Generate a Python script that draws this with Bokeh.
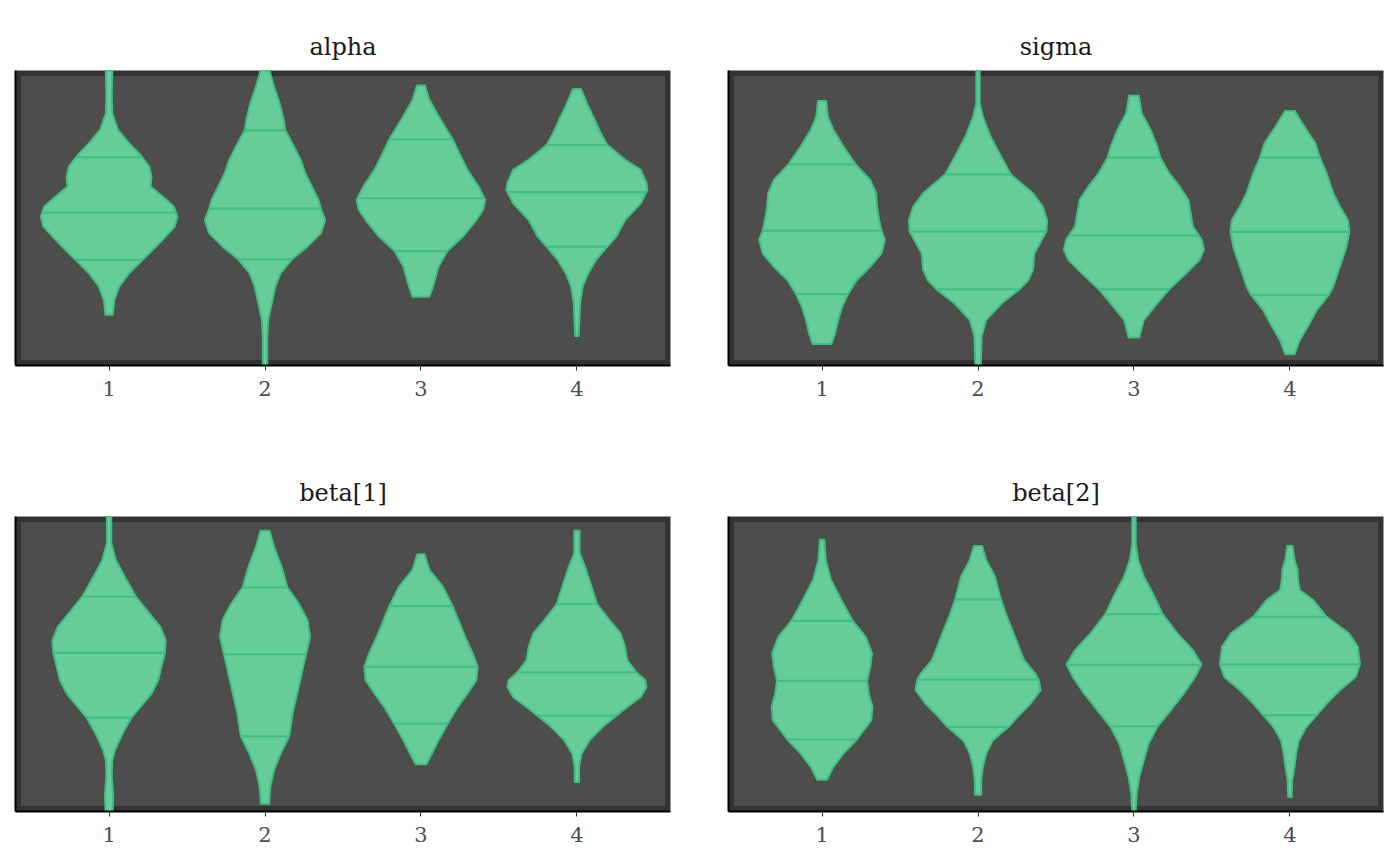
import numpy as np
from bokeh.plotting import figure
from bokeh.layouts import column, row
from bokeh.models import Range1d, FixedTicker, BoxAnnotation
from bokeh.embed import file_html
from bokeh.resources import INLINE

# Chains on the x axis and the four parameters (one panel each)
chains = [1, 2, 3, 4]
tick_labels = ["1", "2", "3", "4"]
params = ["alpha", "sigma", "beta[1]", "beta[2]"]

# Posterior draws are shown on a scaled axis (0 = panel minimum, 100 = panel maximum).
# For every chain: density levels (top to bottom) and the violin half-width at each level,
# plus the 25%, 50% and 75% quantiles.
alpha_levels = [
    [100.0, 92.0, 85.5, 79.9, 75.3, 71.9, 67.4, 63.9, 60.7, 57.3, 53.9, 50.5, 47.1, 42.6, 38.0, 35.8, 31.3, 26.8, 22.3, 17.2],
    [100.0, 94.6, 88.9, 83.3, 79.9, 74.2, 69.7, 65.2, 60.7, 56.1, 53.2, 49.3, 44.8, 40.3, 36.0, 31.3, 26.8, 21.1, 15.4, 9.8, 0.0],
    [94.9, 90.0, 83.3, 76.7, 71.9, 66.3, 60.7, 56.1, 52.7, 49.3, 43.7, 38.8, 33.5, 27.8, 23.3],
    [93.7, 87.8, 83.3, 78.8, 74.7, 69.7, 66.3, 61.8, 59.5, 55.0, 49.3, 43.7, 40.3, 35.8, 31.3, 26.8, 21.1, 10.0],
]
alpha_halfwidth = [
    [0.021, 0.017, 0.020, 0.057, 0.129, 0.192, 0.258, 0.272, 0.266, 0.343, 0.415, 0.438, 0.421, 0.343, 0.258, 0.215, 0.129, 0.066, 0.034, 0.023],
    [0.029, 0.057, 0.094, 0.120, 0.129, 0.186, 0.229, 0.258, 0.300, 0.343, 0.358, 0.386, 0.358, 0.272, 0.172, 0.100, 0.066, 0.043, 0.020, 0.014, 0.014],
    [0.026, 0.054, 0.126, 0.203, 0.246, 0.298, 0.369, 0.412, 0.398, 0.355, 0.269, 0.169, 0.112, 0.083, 0.054],
    [0.026, 0.072, 0.114, 0.152, 0.195, 0.309, 0.409, 0.446, 0.452, 0.409, 0.309, 0.252, 0.195, 0.123, 0.072, 0.037, 0.020, 0.011],
]
alpha_quantiles = [[35.8, 51.8, 70.6], [36.0, 53.2, 79.7], [38.8, 56.7, 76.7], [40.3, 58.8, 74.7]]

sigma_levels = [
    [89.7, 84.4, 79.9, 74.2, 68.2, 62.9, 58.3, 53.9, 49.3, 45.7, 42.6, 38.0, 33.5, 29.0, 24.2, 19.9, 15.4, 10.9, 7.3],
    [100.0, 88.9, 84.4, 77.6, 71.9, 64.8, 58.4, 53.9, 49.3, 45.4, 42.6, 38.0, 32.4, 29.0, 25.8, 21.1, 15.4, 9.8, 0.0],
    [91.4, 85.5, 79.9, 74.2, 70.5, 65.2, 60.7, 56.1, 51.6, 47.1, 42.6, 39.2, 35.8, 31.3, 25.8, 21.1, 15.4, 9.5],
    [86.3, 81.0, 75.3, 70.5, 65.2, 58.4, 53.9, 49.3, 45.3, 40.3, 35.8, 31.3, 26.8, 23.9, 18.8, 13.2, 8.6, 3.8],
]
sigma_halfwidth = [
    [0.026, 0.037, 0.072, 0.137, 0.215, 0.309, 0.346, 0.352, 0.366, 0.381, 0.403, 0.381, 0.309, 0.223, 0.166, 0.129, 0.103, 0.083, 0.060],
    [0.011, 0.011, 0.031, 0.080, 0.137, 0.209, 0.352, 0.415, 0.443, 0.438, 0.409, 0.361, 0.352, 0.323, 0.266, 0.152, 0.052, 0.023, 0.017],
    [0.031, 0.049, 0.106, 0.149, 0.169, 0.226, 0.292, 0.349, 0.363, 0.378, 0.435, 0.449, 0.421, 0.335, 0.226, 0.149, 0.063, 0.034],
    [0.031, 0.092, 0.163, 0.192, 0.235, 0.278, 0.320, 0.372, 0.381, 0.363, 0.335, 0.306, 0.278, 0.249, 0.172, 0.114, 0.063, 0.029],
]
sigma_quantiles = [[24.2, 45.7, 68.2], [25.8, 45.4, 64.8], [25.8, 44.1, 70.5], [23.9, 45.3, 70.5]]

beta1_levels = [
    [100.0, 90.9, 85.3, 79.6, 72.8, 67.2, 62.6, 58.1, 53.8, 49.0, 44.5, 40.0, 35.4, 31.8, 26.4, 20.7, 17.3, 11.7, 6.0, 0.0],
    [95.2, 89.8, 83.0, 76.0, 70.6, 64.9, 59.2, 53.3, 46.8, 40.0, 33.2, 25.5, 19.6, 13.9, 8.3, 2.6],
    [87.2, 81.9, 76.2, 69.6, 64.9, 59.2, 53.6, 49.0, 44.5, 40.0, 35.4, 29.8, 24.1, 19.6, 16.0],
    [95.2, 87.5, 83.0, 76.2, 70.3, 64.9, 60.4, 55.8, 51.3, 47.2, 44.5, 42.2, 38.8, 35.4, 32.5, 28.7, 24.1, 19.6, 15.1, 10.0],
]
beta1_halfwidth = [
    [0.014, 0.014, 0.043, 0.100, 0.172, 0.258, 0.329, 0.363, 0.358, 0.335, 0.315, 0.272, 0.200, 0.143, 0.086, 0.037, 0.020, 0.017, 0.026, 0.023],
    [0.029, 0.057, 0.106, 0.143, 0.215, 0.272, 0.289, 0.263, 0.235, 0.206, 0.177, 0.155, 0.100, 0.057, 0.034, 0.026],
    [0.023, 0.054, 0.140, 0.203, 0.240, 0.283, 0.332, 0.363, 0.355, 0.298, 0.235, 0.172, 0.112, 0.069, 0.034],
    [0.017, 0.017, 0.052, 0.094, 0.129, 0.209, 0.280, 0.309, 0.323, 0.381, 0.438, 0.446, 0.409, 0.323, 0.252, 0.166, 0.080, 0.029, 0.014, 0.014],
]
beta1_quantiles = [[31.8, 53.8, 72.8], [25.5, 53.3, 76.0], [29.8, 49.0, 69.6], [32.5, 47.2, 70.3]]

beta2_levels = [
    [92.1, 85.3, 78.5, 71.7, 64.6, 59.2, 53.6, 49.0, 44.3, 40.0, 35.4, 30.9, 27.5, 24.4, 19.6, 15.1, 10.8],
    [90.0, 85.3, 79.6, 71.9, 66.0, 59.2, 51.3, 46.8, 44.7, 41.1, 36.6, 32.0, 28.7, 24.1, 19.6, 15.1, 10.5, 5.7],
    [100.0, 90.9, 85.3, 79.6, 74.0, 66.9, 60.4, 54.7, 49.9, 45.6, 40.0, 34.3, 28.9, 22.8, 17.3, 11.7, 6.0, 0.0],
    [90.0, 85.3, 81.9, 78.5, 75.1, 71.7, 66.0, 60.4, 55.8, 49.9, 45.6, 41.1, 36.6, 32.7, 28.7, 24.1, 19.6, 15.1, 10.5, 4.9],
]
beta2_halfwidth = [
    [0.014, 0.023, 0.057, 0.123, 0.197, 0.280, 0.320, 0.309, 0.289, 0.300, 0.323, 0.315, 0.266, 0.223, 0.137, 0.072, 0.031],
    [0.026, 0.052, 0.109, 0.146, 0.186, 0.237, 0.295, 0.366, 0.389, 0.401, 0.338, 0.252, 0.197, 0.094, 0.052, 0.031, 0.020, 0.020],
    [0.011, 0.011, 0.026, 0.063, 0.120, 0.183, 0.278, 0.378, 0.432, 0.392, 0.320, 0.235, 0.152, 0.092, 0.063, 0.034, 0.017, 0.011],
    [0.017, 0.029, 0.049, 0.052, 0.063, 0.149, 0.235, 0.378, 0.435, 0.449, 0.421, 0.320, 0.235, 0.172, 0.106, 0.057, 0.040, 0.029, 0.014, 0.011],
]
beta2_quantiles = [[24.4, 44.3, 64.6], [28.7, 44.7, 71.9], [28.9, 49.7, 66.9], [32.7, 49.9, 66.0]]

FILL = "#66cc99"
EDGE = "#40bf80"
FONT = "DejaVu Serif"


def violin_panel(title, levels, halfwidth, quantiles, border):
    left, right, top, bottom, width, height = border
    p = figure(width=width, height=height,
               x_range=Range1d(0.4, 4.6), y_range=Range1d(0, 100),
               output_backend="svg", toolbar_location=None,
               min_border_left=left, min_border_right=right,
               min_border_top=top, min_border_bottom=bottom)
    p.background_fill_color = "#333333"
    p.border_fill_color = "white"
    p.outline_line_color = None
    p.xgrid.visible = False
    p.ygrid.visible = False

    # lighter inner panel, leaving a dark rim around the plotting area
    dx = 5.5 / 156.0
    dy = 5.5 / 2.95
    p.add_layout(BoxAnnotation(left=0.4 + dx, right=4.6 - dx, bottom=dy, top=100 - dy,
                               fill_color="#4d4d4d", fill_alpha=1.0, line_color=None,
                               level="underlay"))

    xs, ys = [], []
    qx0, qx1, qy = [], [], []
    for c, lev, hw, q in zip(chains, levels, halfwidth, quantiles):
        lev = np.asarray(lev, dtype=float)
        hw = np.asarray(hw, dtype=float)
        order = np.argsort(lev)
        lev_up, hw_up = lev[order], hw[order]
        # left side bottom->top, right side top->bottom
        xs.append(list(c - hw_up) + list((c + hw_up)[::-1]))
        ys.append(list(lev_up) + list(lev_up[::-1]))
        for qq in q:
            w = float(np.interp(qq, lev_up, hw_up))
            qx0.append(c - w)
            qx1.append(c + w)
            qy.append(qq)

    p.patches(xs, ys, fill_color=FILL, fill_alpha=1.0, line_color=EDGE, line_width=2,
              line_join="round")
    p.segment(x0=qx0, y0=qy, x1=qx1, y1=qy, line_color=EDGE, line_width=2.2)

    p.title.text = title
    p.title.align = "center"
    p.title.text_font = FONT
    p.title.text_font_size = "24px"
    p.title.text_font_style = "normal"
    p.title.text_color = "#1a1a1a"
    p.title.standoff = 19

    xa = p.xaxis[0]
    xa.ticker = FixedTicker(ticks=chains)
    xa.major_label_overrides = {c: t for c, t in zip(chains, tick_labels)}
    xa.axis_line_color = "black"
    xa.axis_line_width = 2
    xa.major_tick_line_color = "#333333"
    xa.major_tick_out = 5
    xa.major_tick_in = 0
    xa.minor_tick_line_color = None
    xa.major_label_standoff = 10
    xa.major_label_text_font = FONT
    xa.major_label_text_font_size = "21px"
    xa.major_label_text_color = "#4d4d4d"

    ya = p.yaxis[0]
    ya.ticker = FixedTicker(ticks=[])
    ya.axis_line_color = "black"
    ya.axis_line_width = 2
    ya.major_tick_line_color = None
    ya.minor_tick_line_color = None
    return p


p1 = violin_panel(params[0], alpha_levels, alpha_halfwidth, alpha_quantiles, (15, 30, 70, 68, 700, 433))
p2 = violin_panel(params[1], sigma_levels, sigma_halfwidth, sigma_quantiles, (28, 17, 70, 68, 700, 433))
p3 = violin_panel(params[2], beta1_levels, beta1_halfwidth, beta1_quantiles, (15, 30, 83, 55, 700, 433))
p4 = violin_panel(params[3], beta2_levels, beta2_halfwidth, beta2_quantiles, (28, 17, 83, 55, 700, 433))

layout = column(row(p1, p2), row(p3, p4))

with open("out.html", "w") as f:
    f.write(file_html(layout, INLINE))
